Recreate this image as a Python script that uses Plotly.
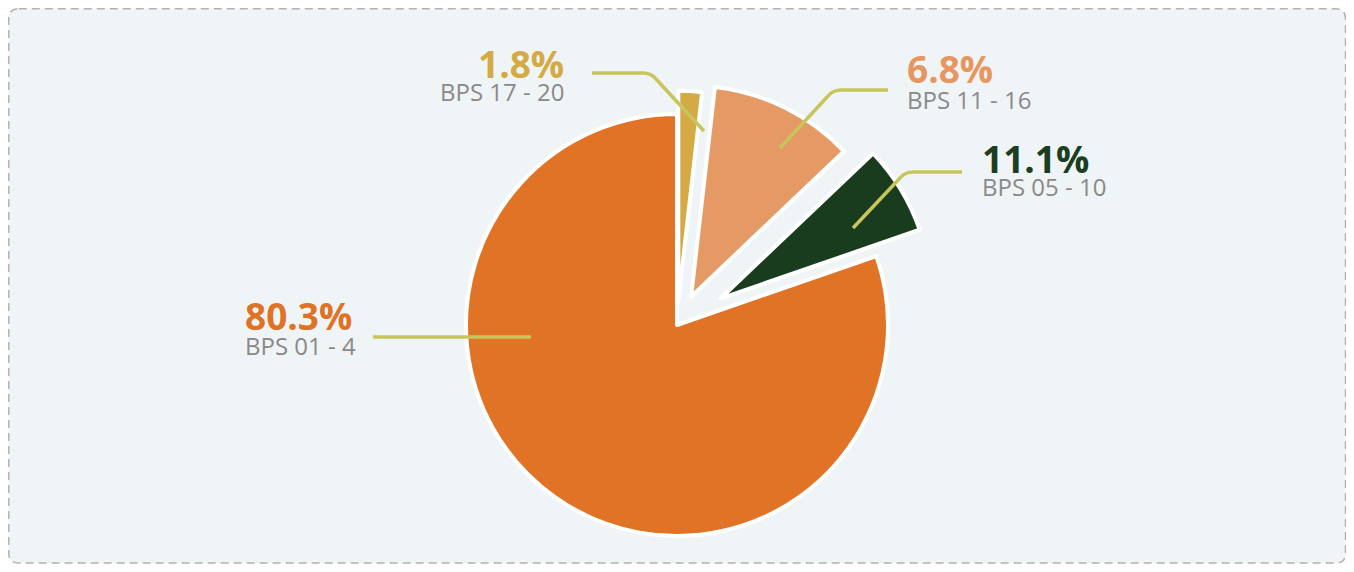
import math
import plotly.graph_objects as go

PAGE_OFF = 8            # browser body margin
W, H = 1338, 556        # figure size so that the page (1354x572) fits exactly

# ---- data (clockwise from 12 o'clock, as drawn in the reference) ----
categories = ["BPS 17 - 20", "BPS 11 - 16", "BPS 05 - 10", "BPS 01 - 4"]
values = [1.8, 11.1, 6.8, 80.3]
pct_labels = ["1.8%", "6.8%", "11.1%", "80.3%"]

# ---- styles ----
slice_colors = ["#d5aa45", "#e59a66", "#1a3c1e", "#e07325"]
label_colors = ["#d4aa45", "#e8965f", "#1b3d21", "#e07226"]
pulls = [0.11, 0.15, 0.24, 0.0]
CX, CY, R = 677, 325, 211  # pie centre / radius in page pixels

# label anchor positions in page pixels: (x, anchor, pct centre y, sub centre y)
label_pos = [
    (566, "right", 63, 92),
    (905, "left", 68.5, 99.5),
    (980, "left", 158, 186),
    (243, "left", 315, 345.5),
]
leader_paths = [
    [(592, 73), (643, 73), ("Q", 651, 73, 656, 79), (704, 131)],
    [(888, 90), (841, 90), ("Q", 833, 90, 828, 96), (780, 148)],
    [(962, 172), (913, 172), ("Q", 905, 172, 900, 178), (853, 228)],
    [(373, 337), (531, 337)],
]
LEADER_COLOR = "#c8c55c"
SUB_COLOR = "#8c8888"


def px(x):
    return (x - PAGE_OFF) / W


def py(y):
    return 1 - (y - PAGE_OFF) / H


fig = go.Figure()

total = sum(values)
cum = 0.0
for i, v in enumerate(values):
    mid = (cum + v / 2) / total * 2 * math.pi
    cum += v
    cx = CX + pulls[i] * R * math.sin(mid)
    cy = CY - pulls[i] * R * math.cos(mid)
    colors = [slice_colors[j] if j == i else "rgba(0,0,0,0)" for j in range(len(values))]
    lcols = ["#ffffff" if j == i else "rgba(0,0,0,0)" for j in range(len(values))]
    fig.add_trace(go.Pie(
        values=values,
        labels=categories,
        sort=False,
        direction="clockwise",
        rotation=0,
        marker=dict(colors=colors, line=dict(color=lcols, width=4)),
        textinfo="none",
        hoverinfo="skip",
        showlegend=False,
        domain=dict(x=[px(cx - R), px(cx + R)], y=[py(cy + R), py(cy - R)]),
    ))

shapes = []
# background card with dashed rounded border
x0, y0, x1, y1, rr = 8.8, 8.8, 1345.5, 563, 10
card = (f"M {px(x0+rr)},{py(y0)} L {px(x1-rr)},{py(y0)} Q {px(x1)},{py(y0)} {px(x1)},{py(y0+rr)} "
        f"L {px(x1)},{py(y1-rr)} Q {px(x1)},{py(y1)} {px(x1-rr)},{py(y1)} "
        f"L {px(x0+rr)},{py(y1)} Q {px(x0)},{py(y1)} {px(x0)},{py(y1-rr)} "
        f"L {px(x0)},{py(y0+rr)} Q {px(x0)},{py(y0)} {px(x0+rr)},{py(y0)} Z")
shapes.append(dict(type="path", xref="paper", yref="paper", path=card,
                   fillcolor="#eff5f6", line=dict(color="#b8afae", width=1.5, dash="8px,5px"),
                   layer="below"))

for pts in leader_paths:
    parts = []
    for k, p in enumerate(pts):
        if p[0] == "Q":
            parts.append(f"Q {px(p[1])},{py(p[2])} {px(p[3])},{py(p[4])}")
        else:
            parts.append(("M" if k == 0 else "L") + f" {px(p[0])},{py(p[1])}")
    shapes.append(dict(type="path", xref="paper", yref="paper", path=" ".join(parts),
                       line=dict(color=LEADER_COLOR, width=3.5), layer="above"))

annotations = []
for i in range(len(values)):
    x, anc, ypct, ysub = label_pos[i]
    annotations.append(dict(x=px(x), y=py(ypct), xref="paper", yref="paper",
                            text=f"<b>{pct_labels[i]}</b>", showarrow=False,
                            xanchor=anc, yanchor="middle",
                            font=dict(family="Open Sans", size=37, color=label_colors[i])))
    annotations.append(dict(x=px(x), y=py(ysub), xref="paper", yref="paper",
                            text=categories[i], showarrow=False,
                            xanchor=anc, yanchor="middle",
                            font=dict(family="Open Sans", size=24, color=SUB_COLOR)))

fig.update_layout(
    width=W, height=H,
    margin=dict(l=0, r=0, t=0, b=0),
    paper_bgcolor="#fbfcfc",
    plot_bgcolor="#fbfcfc",
    shapes=shapes,
    annotations=annotations,
    showlegend=False,
)

fig.write_html("out.html")
